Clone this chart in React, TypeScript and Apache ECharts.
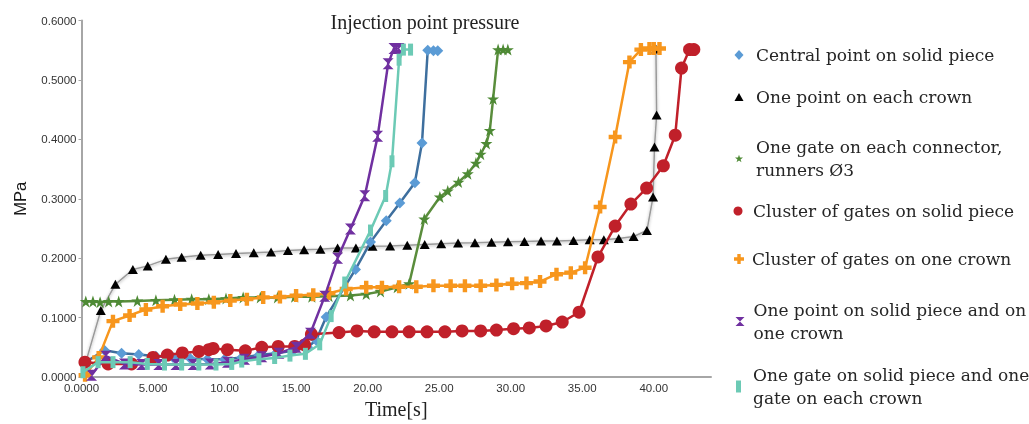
import React, { useEffect, useRef } from 'react';
import * as echarts from 'echarts';

// ---- Data (Time [s], Pressure [MPa]) ----
const centralT = [0.3, 1.6, 2.8, 4.0, 5.2, 6.4, 7.6, 8.8, 10.0, 11.2, 12.4, 13.6, 14.8, 15.8, 16.4, 17.1, 19.15, 20.2, 21.3, 22.25, 23.3, 23.8, 24.2, 24.6, 24.9];
const centralP = [0.025, 0.045, 0.040, 0.038, 0.035, 0.033, 0.031, 0.030, 0.030, 0.033, 0.037, 0.040, 0.044, 0.050, 0.062, 0.101, 0.181, 0.227, 0.263, 0.293, 0.327, 0.394, 0.550, 0.549, 0.549];

const crownT = [0.3, 1.35, 2.37, 3.59, 4.63, 5.9, 7.0, 8.33, 9.55, 10.8, 12.04, 13.25, 14.43, 15.56, 16.7, 17.9, 19.18, 20.34, 21.57, 22.77, 23.99, 25.14, 26.32, 27.5, 28.66, 29.81, 30.96, 32.12, 33.23, 34.39, 35.52, 36.51, 37.55, 38.59, 39.52, 39.95, 40.05, 40.2, 40.15];
const crownP = [0.025, 0.112, 0.156, 0.181, 0.187, 0.198, 0.2017, 0.205, 0.206, 0.2077, 0.209, 0.2105, 0.213, 0.214, 0.215, 0.217, 0.217, 0.220, 0.2204, 0.2216, 0.2232, 0.2243, 0.2254, 0.2259, 0.2268, 0.2276, 0.2282, 0.2287, 0.2287, 0.2298, 0.2309, 0.2309, 0.2332, 0.2365, 0.2465, 0.303, 0.387, 0.441, 0.552];

const connectorT = [0.3, 0.8, 1.3, 1.9, 2.6, 3.9, 5.2, 6.5, 7.7, 8.9, 10.1, 11.3, 12.5, 13.7, 14.9, 16.1, 17.3, 18.8, 19.9, 20.9, 22.07, 22.9, 23.96, 25.05, 25.6, 26.35, 27.0, 27.57, 27.9, 28.3, 28.54, 28.77, 29.12, 29.47, 29.8];
const connectorP = [0.127, 0.127, 0.126, 0.127, 0.127, 0.128, 0.129, 0.130, 0.131, 0.131, 0.132, 0.134, 0.134, 0.134, 0.135, 0.135, 0.136, 0.137, 0.1395, 0.144, 0.151, 0.157, 0.266, 0.303, 0.313, 0.328, 0.342, 0.360, 0.375, 0.393, 0.415, 0.468, 0.551, 0.551, 0.551];

const clusterSolidT = [0.24, 1.86, 3.5, 5.0, 6.0, 7.05, 8.2, 8.9, 9.2, 10.2, 11.45, 12.6, 13.75, 14.9, 15.6, 16.07, 18.0, 19.25, 20.46, 21.7, 22.9, 24.15, 25.4, 26.6, 27.9, 29.0, 30.2, 31.3, 32.47, 33.6, 34.78, 36.1, 37.3, 38.4, 39.5, 40.67, 41.5, 41.94, 42.5, 42.8];
const clusterSolidP = [0.025, 0.022, 0.022, 0.033, 0.037, 0.0405, 0.043, 0.046, 0.048, 0.046, 0.044, 0.050, 0.0515, 0.0515, 0.054, 0.072, 0.0748, 0.0776, 0.076, 0.076, 0.076, 0.076, 0.076, 0.0776, 0.0776, 0.079, 0.0814, 0.0826, 0.0859, 0.0925, 0.109, 0.202, 0.254, 0.291, 0.318, 0.3555, 0.407, 0.52, 0.551, 0.551];

const clusterCrownT = [0.25, 1.2, 2.2, 3.36, 4.5, 5.67, 6.9, 8.1, 9.25, 10.4, 11.56, 12.7, 13.87, 15.0, 16.2, 17.3, 18.5, 19.9, 21.0, 22.2, 23.4, 24.6, 25.8, 26.8, 27.9, 29.0, 30.1, 31.1, 32.05, 33.2, 34.2, 35.2, 36.25, 37.3, 38.3, 39.1, 39.7, 40.0, 40.4];
const clusterCrownP = [0.003, 0.033, 0.094, 0.1036, 0.1136, 0.119, 0.122, 0.1236, 0.1257, 0.1286, 0.131, 0.134, 0.1345, 0.137, 0.1385, 0.141, 0.148, 0.151, 0.151, 0.152, 0.152, 0.1535, 0.1535, 0.1535, 0.1535, 0.155, 0.157, 0.158, 0.1606, 0.173, 0.1756, 0.184, 0.286, 0.404, 0.53, 0.551, 0.553, 0.553, 0.553];

const solidCrownT = [0.7, 1.7, 3.0, 4.2, 5.4, 6.6, 7.8, 9.0, 10.2, 11.4, 12.6, 13.8, 15.0, 16.0, 17.0, 17.9, 18.8, 19.8, 20.7, 21.43, 21.84, 22.0, 22.2];
const solidCrownP = [0.003, 0.035, 0.022, 0.021, 0.021, 0.021, 0.021, 0.022, 0.025, 0.030, 0.034, 0.040, 0.050, 0.0737, 0.1357, 0.200, 0.249, 0.305, 0.405, 0.527, 0.553, 0.553, 0.553];

const gateEachT = [0.1, 1.16, 2.2, 3.4, 4.6, 5.8, 7.0, 8.2, 9.4, 10.5, 11.2, 12.4, 13.5, 14.57, 15.65, 16.65, 17.45, 18.4, 20.2, 21.26, 21.7, 22.2, 22.5, 23.0];
const gateEachP = [0.008, 0.025, 0.025, 0.025, 0.022, 0.021, 0.021, 0.021, 0.021, 0.022, 0.026, 0.030, 0.032, 0.036, 0.039, 0.055, 0.1025, 0.159, 0.2465, 0.3046, 0.363, 0.534, 0.551, 0.551];

const seriesNames = [
  'Central point on solid piece',
  'One point on each crown',
  'One gate on each connector, runners Ø3',
  'Cluster of gates on solid piece',
  'Cluster of gates on one crown',
  'One point on solid piece and on one crown',
  'One gate on solid piece and one gate on each crown',
];
const legendLabels = [
  'Central point on solid piece',
  'One point on each crown',
  'One gate on each connector,\nrunners Ø3',
  'Cluster of gates on solid piece',
  'Cluster of gates on one crown',
  'One point on solid piece and on\none crown',
  'One gate on solid piece and one\ngate on each crown',
];
const yTicks = [0, 0.1, 0.2, 0.3, 0.4, 0.5, 0.6];

const zip = (t: number[], p: number[]) => t.map((x, i) => [x, p[i]]);

const STAR = 'path://M50,2 L61.8,36.2 L97.6,36.2 L68.6,57.6 L79.4,91.8 L50,70.6 L20.6,91.8 L31.4,57.6 L2.4,36.2 L38.2,36.2 Z';
const CROSS = 'path://M33,0 L67,0 L67,33 L100,33 L100,67 L67,67 L67,100 L33,100 L33,67 L0,67 L0,33 L33,33 Z';
const HOURGLASS = 'path://M0,0 L100,0 L50,50 L100,100 L0,100 L50,50 Z';

export default function App() {
  const ref = useRef<HTMLDivElement>(null);
  useEffect(() => {
    const chart = echarts.init(ref.current as HTMLDivElement, null, { renderer: 'svg' });
    const serif = 'Liberation Serif';
    const sans = 'Liberation Sans';
    const legendFont = 'DejaVu Serif';

    const mkLegend = (i: number, top: number, left: number, icon: string, w: number, h: number, pad: number) => ({
      data: [seriesNames[i]],
      top,
      left,
      icon,
      itemWidth: w,
      itemHeight: h,
      padding: 0,
      selectedMode: false,
      formatter: () => legendLabels[i],
      textStyle: { fontFamily: legendFont, fontSize: 17, color: '#262626', lineHeight: 23, padding: [0, 0, 0, pad] },
    });

    const lineSeries = (
      i: number, data: number[][], symbol: string, size: number | number[], itemColor: string, lineColor: string, width: number, z: number, extra: any = {}
    ) => ({
      name: seriesNames[i],
      type: 'line',
      data,
      symbol,
      symbolSize: size,
      showSymbol: true,
      itemStyle: { color: itemColor },
      lineStyle: { color: lineColor, width, ...(extra.lineStyle || {}) },
      z,
      emphasis: { disabled: true },
    });

    chart.setOption({
      animation: false,
      title: {
        text: 'Injection point pressure',
        left: 420,
        top: 7,
        textAlign: 'center',
        textStyle: { fontFamily: serif, fontSize: 20, fontWeight: 'normal', color: '#222' },
      },
      grid: { left: 81.5, top: 20.5, right: 318, bottom: 42.3, containLabel: false },
      xAxis: {
        type: 'value',
        min: 0,
        max: 44,
        interval: 5,
        name: 'Time[s]',
        nameLocation: 'middle',
        nameGap: 22,
        nameTextStyle: { fontFamily: serif, fontSize: 20, color: '#222' },
        axisLine: { lineStyle: { color: '#a6a6a6', width: 2 } },
        axisTick: { show: false },
        splitLine: { show: false },
        axisLabel: {
          showMaxLabel: false,
          margin: 5,
          fontFamily: sans,
          fontSize: 11.5,
          color: '#333333',
          formatter: (v: number) => (v === 0 ? '0.0000' : v < 10 ? v.toFixed(3) : v.toFixed(2)),
        },
      },
      yAxis: {
        type: 'value',
        min: yTicks[0],
        max: yTicks[yTicks.length - 1],
        interval: 0.1,
        name: 'MPa',
        nameLocation: 'middle',
        nameGap: 53,
        nameTextStyle: { fontFamily: sans, fontSize: 16.5, color: '#1a1a1a' },
        axisLine: { show: true, lineStyle: { color: '#a6a6a6', width: 2 } },
        axisTick: { show: true, length: 3, lineStyle: { color: '#a6a6a6' } },
        splitLine: { show: false },
        axisLabel: {
          margin: 5,
          fontFamily: sans,
          fontSize: 11.5,
          color: '#333333',
          formatter: (v: number) => v.toFixed(4),
        },
      },
      legend: [
        mkLegend(0, 43.5, 734.5, 'diamond', 9, 10, 7.5),
        mkLegend(1, 85.5, 734.5, 'triangle', 9, 8, 7.5),
        mkLegend(2, 135.5, 735, STAR, 8, 9, 8),
        mkLegend(3, 199.5, 733.5, 'circle', 9, 9, 5.5),
        mkLegend(4, 247.5, 734, CROSS, 10, 10, 3),
        mkLegend(5, 298.5, 735.5, HOURGLASS, 10, 9, 3.5),
        mkLegend(6, 363.5, 736, 'rect', 5, 12, 7),
      ],
      series: [
        lineSeries(1, zip(crownT, crownP), 'triangle', [10, 9], '#000000', '#9a9a9a', 1.5, 1, {
          lineStyle: { shadowColor: 'rgba(0,0,0,0.3)', shadowBlur: 3, shadowOffsetY: 1 },
        }),
        lineSeries(2, zip(connectorT, connectorP), STAR, 12, '#4e8a35', '#5a8d3c', 2.5, 2),
        lineSeries(0, zip(centralT, centralP), 'diamond', 11, '#5b9bd5', '#3e6f9e', 2.5, 3),
        lineSeries(4, zip(clusterCrownT, clusterCrownP), CROSS, 13, '#f7961d', '#f7961d', 2.5, 4),
        lineSeries(3, zip(clusterSolidT, clusterSolidP), 'circle', 13, '#c0202a', '#c0202a', 2.5, 5),
        lineSeries(5, zip(solidCrownT, solidCrownP), HOURGLASS, [11, 11], '#7030a0', '#7030a0', 2.5, 6),
        lineSeries(6, zip(gateEachT, gateEachP), 'rect', [5, 12], '#6ccab5', '#6ccab5', 2.5, 7),
      ],
    });
    return () => chart.dispose();
  }, []);
  return <div ref={ref} style={{ position: 'fixed', left: 0, top: 0, width: 1029, height: 424 }} />;
}
